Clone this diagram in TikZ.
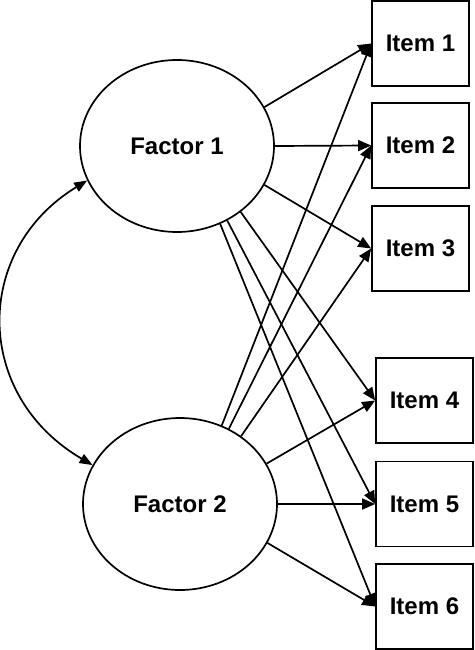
\documentclass[tikz,border=0pt]{standalone}
\usepackage{fontspec}
\setmainfont{Liberation Sans}
\usetikzlibrary{arrows.meta,shapes.geometric}
\tikzset{
  factor/.style={draw,ellipse,line width=1.7pt,minimum width=194pt,minimum height=172pt,inner sep=0pt,font=\fontsize{24}{28}\selectfont\bfseries},
  itembox/.style={draw,rectangle,line width=1.7pt,minimum width=97pt,minimum height=85pt,inner sep=0pt,font=\fontsize{24}{28}\selectfont\bfseries},
  load/.style={line width=1.7pt,-{Triangle[length=13pt,width=11pt]}},
  cov/.style={line width=1.7pt,{Triangle[length=13pt,width=10pt]}-{Triangle[length=13pt,width=10pt]}}
}
\begin{document}
\begin{tikzpicture}[x=1pt,y=-1pt]
\useasboundingbox (0,0) rectangle (474,650);
\node[factor] (F1) at (177,146) {Factor 1};
\node[factor] (F2) at (180,504) {Factor 2};
\node[itembox] (I1) at (420.5,43.5) {Item 1};
\node[itembox] (I2) at (420.5,145.5) {Item 2};
\node[itembox] (I3) at (420.5,248.5) {Item 3};
\node[itembox] (I4) at (424.5,400.5) {Item 4};
\node[itembox] (I5) at (424.5,504) {Item 5};
\node[itembox] (I6) at (424.5,606.5) {Item 6};
% Factor 1 loadings
\draw[load] (F1.24) -- (I1.west);
\draw[load] (F1.0) -- (I2.west);
\draw[load] (F1.-24) -- (I3.west);
\draw[load] (F1.-46) -- (I4.west);
\draw[load] (F1.-56) -- (I5.west);
\draw[load] (F1.-61) -- (I6.west);
% Factor 2 loadings
\draw[load] (F2.62) -- (I1.west);
\draw[load] (F2.57) -- (I2.west);
\draw[load] (F2.48) -- (I3.west);
\draw[load] (F2.25) -- (I4.west);
\draw[load] (F2.0) -- (I5.west);
\draw[load] (F2.-24) -- (I6.west);
% covariance
\draw[cov] (F1.201) .. controls (-27,250) and (-27,395) .. (F2.156);
\end{tikzpicture}
\end{document}
